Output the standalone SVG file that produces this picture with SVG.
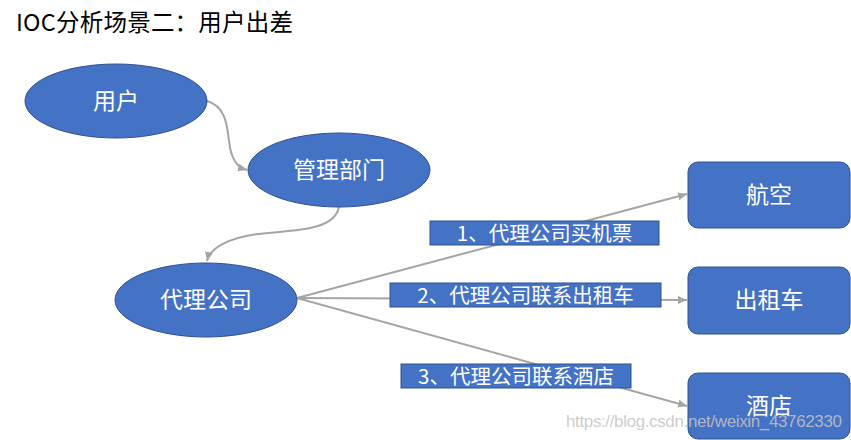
<svg xmlns="http://www.w3.org/2000/svg" width="851" height="440" viewBox="0 0 851 440">
<style>
.node{fill:#4472C4;stroke:#2F528F;stroke-width:1}
.nt{font-family:"Noto Sans CJK SC","Noto Sans",sans-serif;font-size:23px;fill:#fff;text-anchor:middle}
.lt{font-family:"Noto Sans CJK SC","Noto Sans",sans-serif;font-size:20.5px;fill:#fff;text-anchor:middle}
.conn{fill:none;stroke:#A5A5A5;stroke-width:2}
</style>
<defs>
<marker id="arr" markerUnits="userSpaceOnUse" markerWidth="10" markerHeight="10" refX="9" refY="4" orient="auto">
<path d="M0,0 L9,4 L0,8 Z" fill="#A5A5A5"/>
</marker>
</defs>
<rect width="851" height="440" fill="#fff"/>
<text x="16" y="31" font-family="'Noto Sans CJK SC','Noto Sans',sans-serif" font-size="23.5" fill="#000" textLength="277">IOC分析场景二：用户出差</text>
<g id="connectors">
<path class="conn" d="M207,101 C232,108 226,140 232,155 C236,165 240,168 247,170" marker-end="url(#arr)"/>
<path class="conn" d="M339,207 C334,232 290,230 258,234 C228,238 210,248 207,261" marker-end="url(#arr)"/>
<path class="conn" d="M297,298 L687,194" marker-end="url(#arr)"/>
<path class="conn" d="M297,298 L687,300" marker-end="url(#arr)"/>
<path class="conn" d="M297,298 L687,406" marker-end="url(#arr)"/>
</g>
<g id="yonghu">
<ellipse class="node" cx="116" cy="101" rx="91" ry="37"/>
<text class="nt" x="116" y="109">用户</text>
</g>
<g id="guanli">
<ellipse class="node" cx="339" cy="170" rx="91" ry="37"/>
<text class="nt" x="339" y="178">管理部门</text>
</g>
<g id="daili">
<ellipse class="node" cx="206" cy="300" rx="91" ry="37"/>
<text class="nt" x="206" y="308">代理公司</text>
</g>
<g id="hangkong">
<rect class="node" x="688" y="162" width="162" height="66" rx="10"/>
<text class="nt" x="769" y="203">航空</text>
</g>
<g id="chuzuche">
<rect class="node" x="688" y="267" width="162" height="67" rx="10"/>
<text class="nt" x="769" y="308">出租车</text>
</g>
<g id="jiudian">
<rect class="node" x="688" y="373" width="162" height="66" rx="10"/>
<text class="nt" x="769" y="414">酒店</text>
</g>
<g id="label1">
<rect class="node" x="430" y="221" width="229" height="24"/>
<text class="lt" x="544.5" y="240.5">1、代理公司买机票</text>
</g>
<g id="label2">
<rect class="node" x="390" y="283" width="271" height="24"/>
<text class="lt" x="525.5" y="302.5">2、代理公司联系出租车</text>
</g>
<g id="label3">
<rect class="node" x="401" y="364" width="230" height="24"/>
<text class="lt" x="516" y="383.5">3、代理公司联系酒店</text>
</g>
<text x="566" y="427" font-family="'Liberation Sans',Arial,sans-serif" font-size="17" fill="#c4c4c4" fill-opacity="0.85" textLength="276">https://blog.csdn.net/weixin_43762330</text>
</svg>
